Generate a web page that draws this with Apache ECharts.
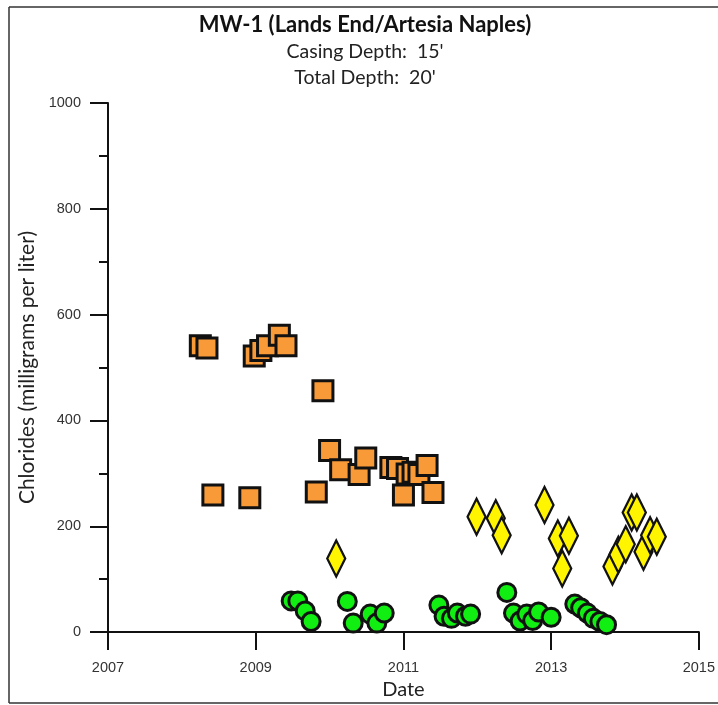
<!DOCTYPE html>
<html>
<head>
<meta charset="utf-8">
<script src="https://cdn.jsdelivr.net/npm/echarts@6/dist/echarts.min.js"></script>
<style>html,body{margin:0;padding:0;background:#fff}#c{width:718px;height:705px}</style>
</head>
<body>
<div id="c"></div>
<script>
// Tick range
var xMin = 2007, xMax = 2015, xStep = 2;
var yMin = 0, yMax = 1000, yStep = 200;

// Series 1: orange squares (decimal year, mg/L)
var squareX = [2008.25, 2008.34, 2008.42, 2008.92, 2008.98, 2009.07, 2009.16, 2009.32, 2009.41, 2009.82, 2009.91, 2010.00, 2010.15, 2010.40, 2010.49, 2010.83, 2010.92, 2011.00, 2011.05, 2011.13, 2011.21, 2011.32, 2011.40];
var squareY = [541, 537, 259, 254, 522, 532, 541, 561, 541, 265, 456, 343, 307, 298, 329, 311, 309, 259, 299, 302, 298, 315, 264];

// Series 2: yellow diamonds
var diamondX = [2010.09, 2011.99, 2012.25, 2012.33, 2012.91, 2013.09, 2013.15, 2013.24, 2013.83, 2013.91, 2014.01, 2014.09, 2014.16, 2014.25, 2014.34, 2014.43];
var diamondY = [139, 218, 215, 183, 240, 177, 120, 182, 124, 146, 166, 226, 226, 152, 183, 180];

// Series 3: green circles
var circleX = [2009.48, 2009.57, 2009.67, 2009.75, 2010.24, 2010.32, 2010.55, 2010.64, 2010.74, 2011.48, 2011.55, 2011.65, 2011.73, 2011.84, 2011.91, 2012.40, 2012.49, 2012.58, 2012.67, 2012.75, 2012.83, 2013.00, 2013.32, 2013.40, 2013.49, 2013.57, 2013.66, 2013.75];
var circleY = [59, 59, 40, 20, 58, 17, 34, 17, 36, 51, 30, 26, 36, 30, 34, 75, 36, 21, 34, 22, 38, 28, 53, 46, 36, 26, 20, 14];

var titleText = 'MW-1 (Lands End/Artesia Naples)';
var sub1 = "Casing Depth:  15'";
var sub2 = "Total Depth:  20'";
var xName = 'Date';
var yName = 'Chlorides (milligrams per liter)';

function pairs(xs, ys) { return xs.map(function (x, i) { return [x, ys[i]]; }); }

var chart = echarts.init(document.getElementById('c'), null, {renderer: 'canvas'});
chart.setOption({
  animation: false,
  backgroundColor: '#fff',
  grid: {left: 108, right: 17, top: 103, bottom: 71, containLabel: false},
  xAxis: {
    type: 'value', min: xMin, max: xMax, interval: xStep,
    name: xName, nameLocation: 'middle', nameGap: 45,
    nameTextStyle: {fontFamily: 'Lato', fontSize: 20, color: '#222'},
    axisLine: {show: true, lineStyle: {color: '#111', width: 2}},
    axisTick: {show: true, length: 18, lineStyle: {color: '#111', width: 2}},
    axisLabel: {margin: 28, fontFamily: 'Liberation Sans', fontSize: 14.5, color: '#333',
      formatter: function (v) { return String(v); }},
    splitLine: {show: false}
  },
  yAxis: {
    type: 'value', min: yMin, max: yMax, interval: yStep,
    name: yName, nameLocation: 'middle', nameGap: 66,
    nameTextStyle: {fontFamily: 'Lato', fontSize: 21, color: '#222'},
    axisLine: {show: true, lineStyle: {color: '#111', width: 2}},
    axisTick: {show: true, length: 18, lineStyle: {color: '#111', width: 2}},
    minorTick: {show: true, splitNumber: 2, length: 9, lineStyle: {color: '#111', width: 2}},
    axisLabel: {margin: 27, fontFamily: 'Liberation Sans', fontSize: 14.5, color: '#333',
      formatter: function (v) { return String(v); }},
    splitLine: {show: false}
  },
  graphic: [
    {type: 'line', shape: {x1: 9, y1: 7, x2: 9, y2: 703}, style: {stroke: '#333', lineWidth: 1.5}},
    {type: 'line', shape: {x1: 9, y1: 7, x2: 718, y2: 7}, style: {stroke: '#333', lineWidth: 1.5}},
    {type: 'line', shape: {x1: 9, y1: 703, x2: 718, y2: 703}, style: {stroke: '#333', lineWidth: 1.5}},
    {type: 'text', x: 365, y: 25, style: {text: titleText, align: 'center', verticalAlign: 'middle', font: 'bold 22px Lato', fill: '#111'}},
    {type: 'text', x: 365, y: 52, style: {text: sub1, align: 'center', verticalAlign: 'middle', font: '19.5px Lato', fill: '#222'}},
    {type: 'text', x: 365, y: 78, style: {text: sub2, align: 'center', verticalAlign: 'middle', font: '19.5px Lato', fill: '#222'}}
  ],
  series: [
    {type: 'scatter', data: pairs(squareX, squareY), symbol: 'rect', symbolSize: 20,
      itemStyle: {color: '#F99A38', borderColor: '#111', borderWidth: 3, opacity: 1}},
    {type: 'scatter', data: pairs(diamondX, diamondY), symbol: 'diamond', symbolSize: [18, 36],
      itemStyle: {color: '#FFF500', borderColor: '#111', borderWidth: 2.5, opacity: 1}},
    {type: 'scatter', data: pairs(circleX, circleY), symbol: 'circle', symbolSize: 18,
      itemStyle: {color: '#11EE11', borderColor: '#111', borderWidth: 3, opacity: 1}}
  ]
});
</script>
</body>
</html>
